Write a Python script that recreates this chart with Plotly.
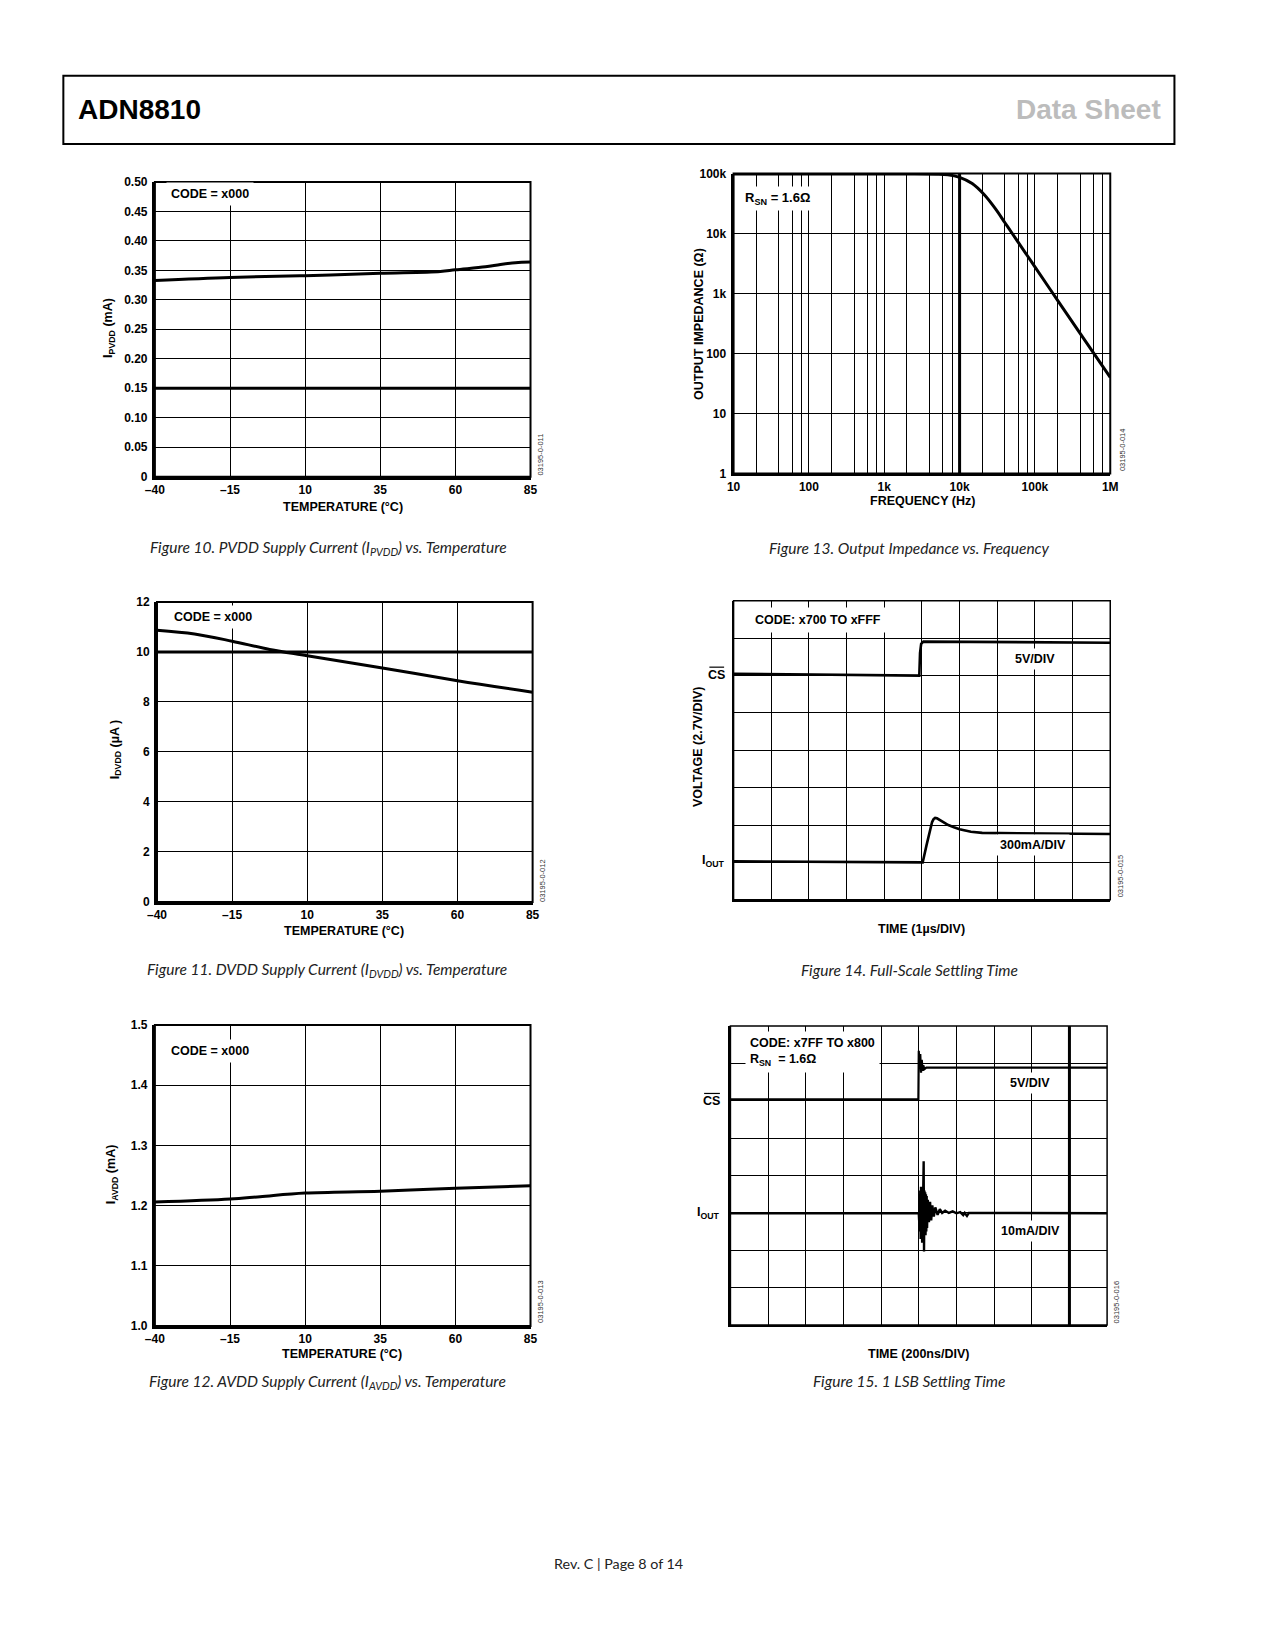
import plotly.graph_objects as go

W, H = 1275, 1650
# layout positions below are given in reference-image pixel coordinates and
# converted to page pixels (accounts for the page offset of the rendered html)
SX, OX = 0.937, 16.9
SY, OY = 0.942, 14.4
def px(d): return ((d - OX) / SX) / W
def py(d): return 1 - ((d - OY) / SY) / H

# ---------------- data ----------------
temp_ticks = [-40, -15, 10, 35, 60, 85]
temp_labels = ["\u201340", "\u201315", "10", "35", "60", "85"]

# Figure 10: IPVDD (mA) vs temperature
temp10 = [-40, -15, 10, 35, 55, 60, 70, 75, 80, 85]
ipvdd = [0.333, 0.338, 0.341, 0.345, 0.348, 0.351, 0.356, 0.360, 0.363, 0.364]

# Figure 11: IDVDD (uA) vs temperature
temp11 = [-40, -27.5, -15, -2.5, 10, 35, 60, 85]
idvdd = [10.87, 10.72, 10.43, 10.10, 9.85, 9.36, 8.85, 8.39]

# Figure 12: IAVDD (mA) vs temperature
temp12 = [-40, -15, -5, 10, 35, 60, 85]
iavdd = [1.206, 1.211, 1.215, 1.221, 1.224, 1.229, 1.233]

# Figure 13: output impedance vs frequency
freq13 = [10, 100, 1000, 5000, 7000, 10000, 14700, 21000, 30000, 40000,
          50000, 79000, 100000, 200000, 400000, 1000000]
zout13 = [98000, 98000, 98000, 97500, 95000, 86000, 68000, 45000, 25700, 15100,
          10000, 4300, 2780, 770, 214, 40]
freq_ticks = [10, 100, 1000, 10000, 100000, 1000000]
freq_labels = ["10", "100", "1k", "10k", "100k", "1M"]
freq_minor = [20, 40, 60, 80, 200, 400, 600, 800, 2000, 4000, 6000, 8000,
              20000, 40000, 60000, 80000, 200000, 400000, 600000, 800000]
z_ticks = [1, 10, 100, 1000, 10000, 100000]
z_labels = ["1", "10", "100", "1k", "10k", "100k"]

# Figure 14: full-scale settling (scope divisions)
cs14_t = [0, 4.93, 4.95, 4.98, 5.04, 10]
cs14_v = [6.05, 6.0, 6.6, 6.85, 6.91, 6.88]
io14_t = [0, 5.02, 5.12, 5.22, 5.27, 5.31, 5.35, 5.40, 5.46, 5.55, 5.7, 5.85,
          6.0, 6.3, 6.6, 10]
io14_v = [1.03, 1.0, 1.45, 1.9, 2.08, 2.16, 2.19, 2.18, 2.14, 2.08, 2.0, 1.94,
          1.89, 1.82, 1.79, 1.76]

# Figure 15: 1 LSB settling (scope divisions)
cs15_t = [0, 4.99, 5.0, 5.02, 5.04, 5.06, 5.08, 5.10, 5.12, 5.15, 5.2, 10]
cs15_v = [6.04, 6.04, 7.34, 6.9, 7.25, 6.75, 7.1, 6.8, 6.95, 6.85, 6.89, 6.89]
io15_t = [0, 5.00, 5.01, 5.02, 5.03, 5.04, 5.05, 5.06, 5.07, 5.08, 5.09, 5.10,
          5.11, 5.12, 5.13, 5.14, 5.15, 5.16, 5.17, 5.18, 5.19, 5.20, 5.21,
          5.22, 5.24, 5.27, 5.30, 5.33, 5.36, 5.40, 5.44, 5.50, 5.56, 5.62,
          5.70, 5.80, 5.90, 6.00, 6.10, 6.18, 6.22, 6.28, 6.33, 10]
io15_v = [2.99, 2.99, 2.8, 3.2, 2.5, 3.6, 2.3, 3.7, 2.4, 3.6, 2.2, 3.65,
          2.3, 3.7, 4.38, 1.97, 3.6, 2.4, 3.55, 2.4, 3.5, 2.5, 3.45,
          2.6, 3.35, 2.75, 3.3, 2.8, 3.2, 2.9, 3.15, 2.95, 3.1, 3.0,
          3.06, 3.0, 3.04, 2.99, 3.02, 2.94, 3.0, 2.92, 3.0, 2.99]

# ---------------- styling ----------------
FONT = "Liberation Sans, Arial, sans-serif"
CAP = "Lato, Open Sans, sans-serif"
TF = dict(family=FONT, size=12, color="black", weight="bold")

fig = go.Figure()

def line_trace(x, y, ax, w=3, shape="spline"):
    fig.add_trace(go.Scatter(x=x, y=y, mode="lines", hoverinfo="skip",
                             line=dict(color="black", width=w, shape=shape),
                             xaxis="x" + ax, yaxis="y" + ax))

line_trace(temp10, ipvdd, "")
line_trace(freq13, zout13, "2")
line_trace(temp11, idvdd, "3")
line_trace(cs14_t, cs14_v, "4", w=2.6, shape="linear")
line_trace(io14_t, io14_v, "4", w=2.6, shape="linear")
line_trace(temp12, iavdd, "5")
line_trace(cs15_t, cs15_v, "6", w=2.2, shape="linear")
line_trace(io15_t, io15_v, "6", w=2.4, shape="linear")

def xax(x0, x1, anchor, **kw):
    d = dict(domain=[px(x0), px(x1)], anchor=anchor, showgrid=True,
             gridcolor="black", gridwidth=1.3, zeroline=False, showline=True,
             linecolor="black", linewidth=3, ticks="", tickfont=TF,
             ticklabelstandoff=0, fixedrange=True)
    d.update(kw)
    return d

def yax(y0, y1, anchor, **kw):
    d = dict(domain=[py(y1), py(y0)], anchor=anchor, showgrid=True,
             gridcolor="black", gridwidth=1.3, zeroline=False, showline=True,
             linecolor="black", linewidth=3, ticks="", tickfont=TF,
             ticklabelstandoff=2, fixedrange=True)
    d.update(kw)
    return d

scope_x = dict(range=[0, 10], tickmode="array", tickvals=list(range(11)),
               showticklabels=False, linewidth=1.5)
scope_y = dict(range=[0, 8], tickmode="array", tickvals=list(range(9)),
               showticklabels=False, linewidth=1.5)

layout_axes = dict(
    xaxis=xax(147, 504, "y", range=[-40, 85], tickmode="array", tickvals=temp_ticks,
              ticktext=temp_labels),
    yaxis=yax(173, 453, "x", range=[0, 0.5], tickmode="array",
              tickvals=[0, 0.05, 0.1, 0.15, 0.2, 0.25, 0.3, 0.35, 0.4, 0.45, 0.5],
              ticktext=["0", "0.05", "0.10", "0.15", "0.20", "0.25", "0.30", "0.35",
                        "0.40", "0.45", "0.50"]),
    xaxis2=xax(697, 1055, "y2", type="log", range=[1, 6], tickmode="array",
               tickvals=freq_ticks + freq_minor,
               ticktext=freq_labels + [""] * len(freq_minor)),
    yaxis2=yax(165, 450, "x2", type="log", range=[0, 5], tickmode="array",
               tickvals=z_ticks, ticktext=z_labels),
    xaxis3=xax(149, 506, "y3", range=[-40, 85], tickmode="array", tickvals=temp_ticks,
               ticktext=temp_labels),
    yaxis3=yax(572, 857, "x3", range=[0, 12], tickmode="array",
               tickvals=[0, 2, 4, 6, 8, 10, 12]),
    xaxis4=xax(697, 1055, "y4", **scope_x),
    yaxis4=yax(571, 855, "x4", **scope_y),
    xaxis5=xax(147, 504, "y5", range=[-40, 85], tickmode="array", tickvals=temp_ticks,
               ticktext=temp_labels),
    yaxis5=yax(974, 1260, "x5", range=[1.0, 1.5], tickmode="array",
               tickvals=[1.0, 1.1, 1.2, 1.3, 1.4, 1.5],
               ticktext=["1.0", "1.1", "1.2", "1.3", "1.4", "1.5"]),
    xaxis6=xax(694, 1052, "y6", **scope_x),
    yaxis6=yax(975, 1259, "x6", **scope_y),
)

shapes = []
for ax, w in [("", 2), ("2", 2), ("3", 2), ("4", 1.5), ("5", 2), ("6", 1.5)]:
    shapes.append(dict(type="rect", xref="x%s domain" % ax, yref="y%s domain" % ax,
                       x0=0, x1=1, y0=0, y1=1, line=dict(color="black", width=w)))
shapes.append(dict(type="line", xref="x domain", yref="y", x0=0, x1=1, y0=0.15, y1=0.15,
                   line=dict(color="black", width=3)))
shapes.append(dict(type="line", xref="x3 domain", yref="y3", x0=0, x1=1, y0=10, y1=10,
                   line=dict(color="black", width=3)))
shapes.append(dict(type="line", xref="x2", yref="y2 domain", x0=10000, x1=10000, y0=0, y1=1,
                   line=dict(color="black", width=3)))
shapes.append(dict(type="line", xref="x6", yref="y6 domain", x0=9, x1=9, y0=0, y1=1,
                   line=dict(color="black", width=3)))
# header box
shapes.append(dict(type="rect", xref="paper", yref="paper", x0=px(60), x1=px(1116),
                   y0=py(137), y1=py(72), line=dict(color="black", width=2)))
# overlines for CS
shapes.append(dict(type="line", xref="paper", yref="paper", x0=px(674), x1=px(688),
                   y0=py(634), y1=py(634), line=dict(color="black", width=1.2)))
shapes.append(dict(type="line", xref="paper", yref="paper", x0=px(669), x1=px(684),
                   y0=py(1039), y1=py(1039), line=dict(color="black", width=1.2)))

ann = []
def text(x, y, s, size=12.5, xa="center", ya="middle", angle=0, family=FONT,
         weight="bold", color="black", style="normal", bg=None, pad=1, align="left"):
    d = dict(x=px(x), y=py(y), xref="paper", yref="paper", text=s, showarrow=False,
             xanchor=xa, yanchor=ya, textangle=angle, align=align,
             font=dict(family=family, size=size, color=color, weight=weight, style=style))
    if bg:
        d.update(bgcolor=bg, borderpad=pad)
    ann.append(d)

def caption(x, y, s):
    text(x, y, s, size=15.5, family=CAP, weight="normal", style="italic", color="#222")

def ident(x, y, s):
    text(x, y, s, size=7.5, angle=-90, weight="normal", color="#333")

# header and footer
text(72, 104, "ADN8810", size=28, xa="left")
text(1105, 104, "Data Sheet", size=28, xa="right", color="#bcbcbc")
text(588, 1486, "Rev. C | Page 8 of 14", size=14.3, family=CAP, weight="normal", color="#222")

# Figure 10
text(158, 184, "CODE = x000", size=12.5, xa="left", bg="white", pad=4)
text(104, 312, "I<sub>PVDD</sub> (mA)", angle=-90)
text(326, 482, "TEMPERATURE (\u00b0C)")
ident(514, 432, "03195-0-011")
caption(312, 521, "Figure 10. PVDD Supply Current (I<sub>PVDD</sub>) vs. Temperature")

# Figure 13
text(704, 189, "R<sub>SN</sub> = 1.6\u03a9", size=13, xa="left", bg="white", pad=3)
text(664, 308, "OUTPUT IMPEDANCE (\u03a9)", angle=-90)
text(877, 476, "FREQUENCY (Hz)")
ident(1066, 427, "03195-0-014")
caption(864, 521, "Figure 13. Output Impedance vs. Frequency")

# Figure 11
text(160, 586, "CODE = x000", size=12.5, xa="left", bg="white", pad=4)
text(110, 712, "I<sub>DVDD</sub> (\u00b5A )", angle=-90)
text(327, 885, "TEMPERATURE (\u00b0C)")
ident(516, 837, "03195-0-012")
caption(311, 922, "Figure 11. DVDD Supply Current (I<sub>DVDD</sub>) vs. Temperature")

# Figure 14
text(712, 589, "CODE: x700 TO xFFF", xa="left", bg="white", pad=5)
text(983, 626, "5V/DIV", bg="white", pad=3)
text(982, 803, "300mA/DIV", bg="white", pad=3)
text(681, 641, "CS")
text(678, 818, "I<sub>OUT</sub>")
text(663, 710, "VOLTAGE (2.7V/DIV)", angle=-90)
text(876, 883, "TIME (1\u00b5s/DIV)")
ident(1065, 832, "03195-0-015")
caption(864, 922, "Figure 14. Full-Scale Settling Time")

# Figure 12
text(158, 999, "CODE = x000", size=12.5, xa="left", bg="white", pad=4)
text(106, 1116, "I<sub>AVDD</sub> (mA)", angle=-90)
text(325, 1287, "TEMPERATURE (\u00b0C)")
ident(514, 1237, "03195-0-013")
caption(311, 1313, "Figure 12. AVDD Supply Current (I<sub>AVDD</sub>) vs. Temperature")

# Figure 15
text(708, 1000, "CODE: x7FF TO x800<br>R<sub>SN</sub>  = 1.6\u03a9", xa="left", bg="white", pad=4)
text(979, 1029, "5V/DIV", bg="white", pad=3)
text(979, 1170, "10mA/DIV", bg="white", pad=3)
text(676, 1046, "CS")
text(673, 1153, "I<sub>OUT</sub>")
text(873, 1287, "TIME (200ns/DIV)")
ident(1061, 1237, "03195-0-016")
caption(864, 1312, "Figure 15. 1 LSB Settling Time")

fig.update_layout(width=W, height=H, margin=dict(l=0, r=0, t=0, b=0),
                  paper_bgcolor="white", plot_bgcolor="white", showlegend=False,
                  shapes=shapes, annotations=ann, **layout_axes)

fig.write_html("out.html")
